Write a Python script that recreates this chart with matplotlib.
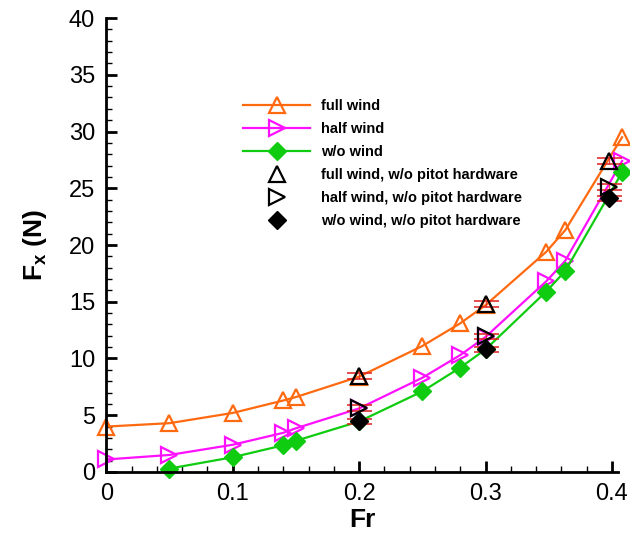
import numpy as np
import matplotlib.pyplot as plt

plt.rcParams.update({
    'font.family': 'Liberation Sans',
    'mathtext.fontset': 'custom',
    'mathtext.rm': 'Liberation Sans:bold',
    'mathtext.bf': 'Liberation Sans:bold',
    'mathtext.it': 'Liberation Sans:bold',
})

# # Data
fr_full = [0.0, 0.05, 0.10, 0.14, 0.15, 0.20, 0.25, 0.28, 0.30, 0.348, 0.363, 0.408]
fx_full = [4.0, 4.3, 5.2, 6.3, 6.6, 8.4, 11.1, 13.1, 14.7, 19.4, 21.3, 29.5]

fr_half = [0.0, 0.05, 0.10, 0.14, 0.15, 0.20, 0.25, 0.28, 0.30, 0.348, 0.363, 0.408]
fx_half = [1.1, 1.5, 2.4, 3.45, 3.85, 5.6, 8.3, 10.3, 11.9, 16.8, 18.6, 27.4]

fr_none = [0.05, 0.10, 0.14, 0.15, 0.20, 0.25, 0.28, 0.30, 0.348, 0.363, 0.408]
fx_none = [0.3, 1.3, 2.35, 2.75, 4.45, 7.1, 9.2, 10.8, 15.9, 17.7, 26.4]

fr_nopitot = [0.20, 0.30, 0.398]
fx_full_nopitot = [8.45, 14.8, 27.4]
fx_half_nopitot = [5.65, 11.95, 25.1]
fx_none_nopitot = [4.45, 10.8, 24.1]
err_nopitot = [0.25, 0.25, 0.25]

orange = '#ff6a10'
magenta = '#ff10ff'
green = '#10cc10'

fig = plt.figure(figsize=(6.3, 5.43), dpi=100)
ax = fig.add_axes([0.1687, 0.1308, 0.8127, 0.836])

ax.plot(fr_full, fx_full, color=orange, lw=1.6, marker='^', ms=12,
        mfc='none', mec=orange, mew=1.6, label='full wind', zorder=2, clip_on=False)
ax.plot(fr_half, fx_half, color=magenta, lw=1.6, marker='>', ms=12,
        mfc='none', mec=magenta, mew=1.6, label='half wind', zorder=2, clip_on=False)
ax.plot(fr_none, fx_none, color=green, lw=1.6, marker='D', ms=9,
        mfc=green, mec=green, label='w/o wind', zorder=2, clip_on=False)

# error bars (red caps) for the w/o pitot hardware points
for yy in [fx_full_nopitot, fx_half_nopitot, fx_none_nopitot]:
    ax.errorbar(fr_nopitot, yy, yerr=err_nopitot, fmt='none', ecolor='#e02020',
                elinewidth=1.0, capsize=9, capthick=1.4, alpha=0.8, zorder=3,
                clip_on=False)

ax.plot(fr_nopitot, fx_full_nopitot, ls='none', marker='^', ms=12, mfc='none',
        mec='black', mew=1.6, label='full wind, w/o pitot hardware', zorder=4)
ax.plot(fr_nopitot, fx_half_nopitot, ls='none', marker='>', ms=12, mfc='none',
        mec='black', mew=1.6, label='half wind, w/o pitot hardware', zorder=4)
ax.plot(fr_nopitot, fx_none_nopitot, ls='none', marker='D', ms=9, mfc='black',
        mec='black', label='w/o wind, w/o pitot hardware', zorder=4)

ax.set_xlim(0, 0.405)
ax.set_ylim(0, 40)
ax.set_xticks(np.arange(0, 0.41, 0.1))
ax.set_xticklabels(['0', '0.1', '0.2', '0.3', '0.4'])
ax.set_xticks(np.arange(0, 0.405, 0.02), minor=True)
ax.set_yticks(np.arange(0, 41, 5))
ax.set_yticks(np.arange(0, 41, 1), minor=True)

ax.spines['top'].set_visible(False)
ax.spines['right'].set_visible(False)
ax.spines['left'].set_linewidth(2.0)
ax.spines['bottom'].set_linewidth(2.0)
ax.tick_params(which='major', direction='in', length=8, width=2, labelsize=17, pad=8)
ax.tick_params(which='minor', direction='in', length=4, width=1)

ax.set_xlabel('Fr', fontsize=19, fontweight='bold', labelpad=2)
ax.set_ylabel(r'$\mathbf{F_x}$ (N)', fontsize=19, fontweight='bold', labelpad=14)

leg = ax.legend(loc='upper left', bbox_to_anchor=(236 / 630, 1 - 92 / 543),
                bbox_transform=fig.transFigure, frameon=False,
                prop={'weight': 'bold', 'size': 10.5}, handlelength=4.6,
                handletextpad=0.7, labelspacing=0.62, borderpad=0)

fig.savefig('out.png', dpi=100)
